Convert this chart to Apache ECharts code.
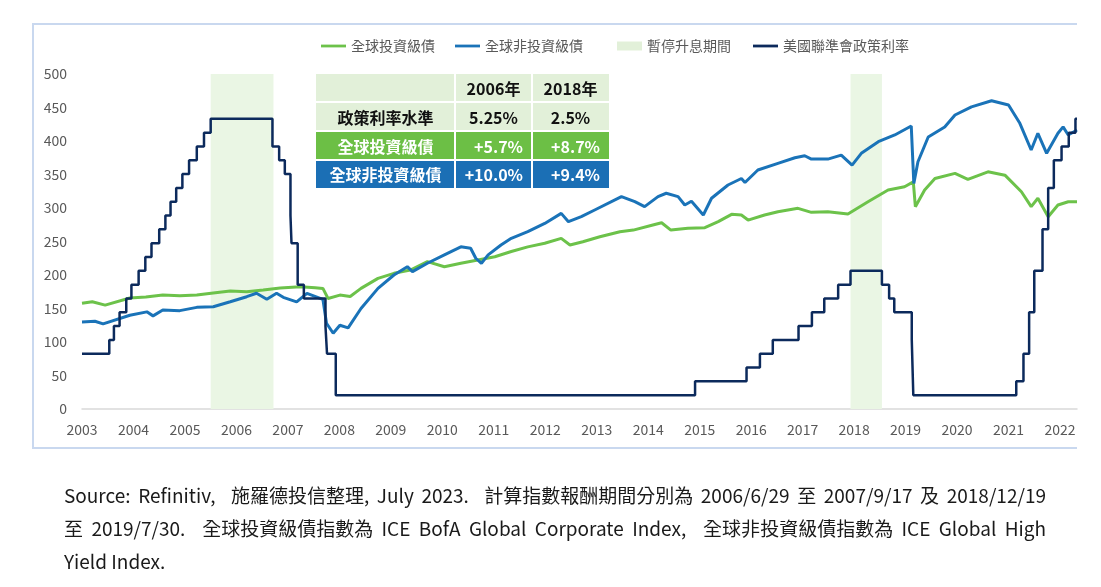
<!DOCTYPE html>
<html>
<head>
<meta charset="utf-8">
<title>政策利率與債券指數</title>
<script src="https://cdn.jsdelivr.net/npm/echarts@6.0.0/dist/echarts.min.js"></script>
<style>
    html, body { margin: 0; padding: 0; background: #fff; }
    #wrap { position: relative; width: 1101px; height: 587px; }
    #chart { position: absolute; left: 0; top: 0; width: 1101px; height: 587px; }
    #note {
        position: absolute; left: 64px; top: 478px; width: 982px;
        font: 19px "Noto Sans CJK TC", "Noto Sans", sans-serif;
        line-height: 33px; color: #1a1a1a;
    }
    #note div { white-space: pre; }
</style>
</head>
<body>
<div id="wrap">
    <div id="chart"></div>
    <div id="note"></div>
</div>
<script>
// 全球投資級債 (年, 指數)
const igData = [
    [2003.00, 157.7], [2003.20, 160], [2003.45, 155], [2003.93, 165.6], [2004.24, 167], [2004.57, 170],
    [2004.90, 169], [2005.23, 170], [2005.55, 173], [2005.88, 176], [2006.20, 175], [2006.52, 177.6],
    [2006.85, 180.6], [2007.24, 182.5], [2007.53, 181], [2007.68, 180], [2007.78, 165], [2008.01, 170],
    [2008.21, 168], [2008.42, 180], [2008.75, 195], [2009.06, 202.5], [2009.38, 207.5], [2009.71, 220],
    [2010.04, 212.4], [2010.36, 217.5], [2010.69, 222.4], [2011.02, 227.3], [2011.34, 235], [2011.66, 242],
    [2011.99, 247.3], [2012.31, 254.7], [2012.48, 244.8], [2012.73, 249.7], [2013.06, 257], [2013.45, 264.6],
    [2013.71, 267], [2014.09, 274.6], [2014.26, 278], [2014.44, 267], [2014.77, 269.7], [2015.10, 270.6],
    [2015.36, 279.6], [2015.62, 290.5], [2015.81, 289.5], [2015.94, 282], [2016.26, 289.5], [2016.52, 294.5],
    [2016.91, 299.5], [2017.17, 293.5], [2017.49, 294.5], [2017.88, 291], [2018.27, 309.4], [2018.66, 326.9],
    [2018.98, 331.8], [2019.15, 339], [2019.19, 302], [2019.37, 327], [2019.57, 344], [2019.96, 351.7],
    [2020.21, 342.8], [2020.60, 354], [2020.93, 349], [2021.25, 324.3], [2021.44, 302], [2021.57, 314.5],
    [2021.77, 287], [2021.96, 304.5], [2022.16, 309.4], [2022.33, 309.4]
];

// 全球非投資級債 (年, 指數)
const hyData = [
    [2003.00, 130], [2003.25, 131], [2003.41, 127], [2003.93, 140], [2004.26, 145], [2004.38, 139],
    [2004.57, 147.8], [2004.90, 146.8], [2005.23, 151.7], [2005.55, 152.7], [2005.88, 160], [2006.20, 167.6],
    [2006.39, 172.7], [2006.59, 163.7], [2006.78, 172.7], [2006.91, 166.7], [2007.17, 160], [2007.37, 172.7],
    [2007.68, 163.7], [2007.75, 128], [2007.88, 113], [2008.01, 125], [2008.17, 121], [2008.42, 150],
    [2008.75, 180], [2009.06, 200], [2009.32, 212.4], [2009.42, 205], [2009.71, 217.5], [2010.04, 230],
    [2010.36, 242], [2010.55, 240], [2010.65, 225], [2010.76, 217.5], [2010.89, 230], [2011.14, 244.8],
    [2011.34, 254.7], [2011.66, 264.6], [2011.99, 277], [2012.31, 292], [2012.45, 279.6], [2012.70, 287],
    [2012.96, 297], [2013.48, 316.9], [2013.74, 309.4], [2013.93, 302], [2014.19, 317], [2014.35, 322],
    [2014.58, 317], [2014.71, 304.5], [2014.84, 310], [2015.07, 289.5], [2015.23, 314.5], [2015.55, 334.3],
    [2015.81, 344], [2015.88, 338], [2016.13, 356.7], [2016.52, 366.7], [2016.85, 375], [2017.04, 378],
    [2017.17, 373], [2017.49, 373], [2017.75, 379], [2017.96, 364], [2018.14, 381.6], [2018.47, 399],
    [2018.79, 409], [2019.11, 422.4], [2019.16, 336.8], [2019.24, 369], [2019.44, 406], [2019.76, 421],
    [2019.96, 438.8], [2020.28, 451], [2020.67, 460], [2021.00, 453.7], [2021.22, 426.4], [2021.44, 386.6],
    [2021.57, 411.5], [2021.74, 381.6], [2021.96, 411.5], [2022.06, 421], [2022.16, 409], [2022.33, 416.4]
];

// 美國聯準會政策利率 (年, %)，每筆為調整日
const fedData = [
    [2003.00, 1.00], [2003.53, 1.25], [2003.62, 1.50], [2003.73, 1.75], [2003.86, 2.00], [2003.96, 2.25],
    [2004.10, 2.50], [2004.23, 2.75], [2004.35, 3.00], [2004.50, 3.25], [2004.62, 3.50], [2004.72, 3.75],
    [2004.83, 4.00], [2004.95, 4.25], [2005.08, 4.50], [2005.23, 4.75], [2005.37, 5.00], [2005.50, 5.25],
    [2006.70, 4.75], [2006.83, 4.50], [2006.94, 4.25], [2007.05, 3.50], [2007.07, 3.00], [2007.19, 2.25],
    [2007.31, 2.00], [2007.73, 1.50], [2007.76, 1.00], [2007.93, 0.25], [2014.91, 0.50], [2015.91, 0.75],
    [2016.17, 1.00], [2016.42, 1.25], [2016.92, 1.50], [2017.18, 1.75], [2017.42, 2.00], [2017.69, 2.25],
    [2017.93, 2.50], [2018.54, 2.25], [2018.68, 2.00], [2018.78, 1.75], [2019.12, 1.25], [2019.15, 0.25],
    [2021.15, 0.50], [2021.29, 1.00], [2021.40, 1.75], [2021.50, 2.50], [2021.66, 3.25], [2021.77, 4.00],
    [2021.88, 4.50], [2022.03, 4.75], [2022.17, 5.00], [2022.30, 5.25], [2022.33, 5.25]
];

// 暫停升息期間
const pausePeriods = [[2005.50, 2006.72], [2017.93, 2018.54]];

// 表格
const tableHeader = ['', '2006年', '2018年'];
const tableRows = [
    ['政策利率水準', '5.25%', '2.5%'],
    ['全球投資級債', '+5.7%', '+8.7%'],
    ['全球非投資級債', '+10.0%', '+9.4%']
];

const sourceLines = [
    'Source: Refinitiv,  施羅德投信整理, July 2023.  計算指數報酬期間分別為 2006/6/29 至 2007/9/17 及 2018/12/19',
    '至 2019/7/30.  全球投資級債指數為 ICE BofA Global Corporate Index,  全球非投資級債指數為 ICE Global High',
    'Yield Index.'
];

const FONT = '"Noto Sans CJK TC", "Noto Sans", sans-serif';
const lineIcon = 'path://M0,0H27V3H0Z';

// 表格圖形
const buildTable = () => {
    const colX = [316, 455, 532, 609];
    const rowY = [74, 102, 131, 160, 188];
    const rowFill = ['#e2f0d9', '#e2f0d9', '#6cbf45', '#1b6fb5'];
    const rowText = ['#111', '#111', '#fff', '#fff'];
    const rows = [tableHeader].concat(tableRows);
    const children = [];
    rows.forEach((row, r) => {
        row.forEach((txt, c) => {
            const x0 = colX[c], x1 = colX[c + 1];
            const y0 = rowY[r], y1 = rowY[r + 1];
            children.push({
                type: 'rect',
                shape: { x: x0 + (c > 0 ? 1 : 0), y: y0 + (r > 0 ? 1 : 0), width: x1 - x0 - (c > 0 ? 1 : 0) - (c < 2 ? 1 : 0), height: y1 - y0 - (r > 0 ? 1 : 0) - (r < 3 ? 1 : 0) },
                style: { fill: rowFill[r] }
            });
            if (!txt) return;
            const rightAlign = r >= 2 && c > 0;
            children.push({
                type: 'text',
                style: {
                    x: rightAlign ? x1 - 9 : (x0 + x1) / 2,
                    y: (y0 + y1) / 2 + 1,
                    text: txt,
                    fill: rowText[r],
                    font: 'bold 16px ' + FONT,
                    align: rightAlign ? 'right' : 'center',
                    verticalAlign: 'middle'
                }
            });
        });
    });
    return { type: 'group', z: 100, children };
};

// 註解文字：只在空白處撐開，讓前兩行左右對齊
const note = document.getElementById('note');
sourceLines.forEach((t, i) => {
    const d = document.createElement('div');
    const s = document.createElement('span');
    s.textContent = t;
    d.appendChild(s);
    note.appendChild(d);
    if (i < sourceLines.length - 1) {
        const spaces = (t.match(/ /g) || []).length;
        const extra = 982 - s.getBoundingClientRect().width;
        if (spaces) s.style.wordSpacing = (extra / spaces) + 'px';
    }
});

const chart = echarts.init(document.getElementById('chart'));

const option = {
    animation: false,
    backgroundColor: '#fff',
    textStyle: { fontFamily: FONT },
    grid: { left: 82, right: 24, top: 74, bottom: 178 },
    legend: [
        {
            left: 316, top: 34, itemWidth: 25, itemHeight: 9, itemGap: 20,
            textStyle: { fontSize: 14, color: '#595959', fontFamily: FONT },
            data: [
                { name: '全球投資級債', icon: lineIcon },
                { name: '全球非投資級債', icon: lineIcon }
            ]
        },
        {
            left: 612, top: 34, itemWidth: 25, itemHeight: 9, itemGap: 22,
            textStyle: { fontSize: 14, color: '#595959', fontFamily: FONT },
            data: [
                { name: '暫停升息期間', icon: 'rect' },
                { name: '美國聯準會政策利率', icon: lineIcon }
            ]
        }
    ],
    xAxis: {
        type: 'value',
        min: 2003,
        max: 2022.33,
        interval: 1,
        splitLine: { show: false },
        axisTick: { show: false },
        axisLine: { lineStyle: { color: '#d9d9d9', width: 1.5 } },
        axisLabel: {
            color: '#595959', fontSize: 14, margin: 14, fontFamily: FONT,
            formatter: v => (Number.isInteger(v) ? String(v) : '')
        }
    },
    yAxis: [
        {
            type: 'value', min: 0, max: 500, interval: 50,
            splitLine: { show: false },
            axisLine: { show: false },
            axisTick: { show: false },
            axisLabel: { color: '#595959', fontSize: 14, margin: 15, fontFamily: FONT }
        },
        {
            type: 'value', min: 0, max: 500 / 82.5, show: false,
            splitLine: { show: false }
        }
    ],
    series: [
        {
            name: '暫停升息期間',
            type: 'line',
            data: [],
            z: 1,
            itemStyle: { color: '#e2f0d9' },
            markArea: {
                silent: true,
                itemStyle: { color: '#eaf6e4' },
                data: pausePeriods.map(p => [{ xAxis: p[0] }, { xAxis: p[1] }])
            }
        },
        {
            name: '全球投資級債',
            type: 'line',
            data: igData,
            showSymbol: false,
            z: 3,
            itemStyle: { color: '#6cc24a' },
            lineStyle: { color: '#6cc24a', width: 3 }
        },
        {
            name: '全球非投資級債',
            type: 'line',
            data: hyData,
            showSymbol: false,
            z: 4,
            itemStyle: { color: '#1a73b8' },
            lineStyle: { color: '#1a73b8', width: 3 }
        },
        {
            name: '美國聯準會政策利率',
            type: 'line',
            yAxisIndex: 1,
            step: 'end',
            data: fedData,
            showSymbol: false,
            z: 5,
            itemStyle: { color: '#0c2a5c' },
            lineStyle: { color: '#0c2a5c', width: 2.5 }
        }
    ],
    graphic: [
        {
            type: 'polyline',
            z: 0,
            shape: { points: [[1077, 24], [33, 24], [33, 448], [1077, 448]] },
            style: { stroke: '#c9d8ef', lineWidth: 2, fill: null }
        },
        buildTable()
    ]
};

chart.setOption(option);
</script>
</body>
</html>
